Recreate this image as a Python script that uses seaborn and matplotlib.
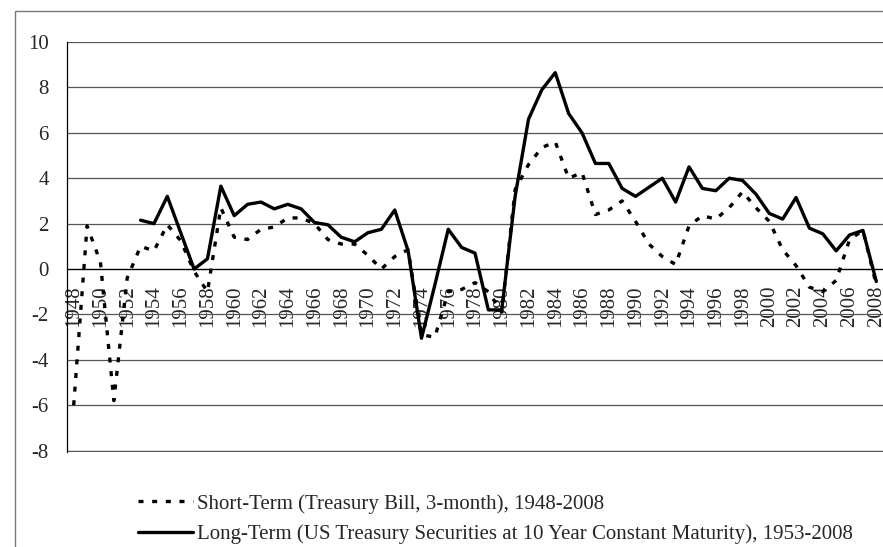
import numpy as np
import pandas as pd
import matplotlib
matplotlib.use("Agg")
import matplotlib.pyplot as plt
import matplotlib.patches as patches
import seaborn as sns

short_years = list(range(1948, 2009))
short_rate = [-6.0, 1.9, 0.3, -5.8, -0.4, 1.0, 0.8, 1.95, 1.25, -0.1,     # 1948-1957
              -1.0, 2.7, 1.4, 1.3, 1.75, 1.85, 2.25, 2.25, 2.0, 1.3,      # 1958-1967
              1.1, 1.1, 0.6, 0.0, 0.55, 0.85, -2.9, -3.0, -1.0, -0.9,     # 1968-1977
              -0.6, -1.0, -1.9, 3.5, 4.6, 5.35, 5.6, 4.0, 4.25, 2.4,      # 1978-1987
              2.6, 3.0, 2.1, 1.1, 0.55, 0.2, 1.9, 2.35, 2.2, 2.7,         # 1988-1997
              3.4, 2.7, 2.1, 0.85, 0.15, -0.8, -1.0, -0.5, 1.3, 1.7,      # 1998-2007
              -0.7]                                                       # 2008
long_years = list(range(1953, 2009))
long_rate = [2.15, 2.0, 3.2, 1.6, 0.0, 0.45, 3.65, 2.35, 2.85, 2.95,      # 1953-1962
             2.65, 2.85, 2.65, 2.05, 1.95, 1.4, 1.2, 1.6, 1.75, 2.6,      # 1963-1972
             0.8, -3.05, -0.7, 1.75, 0.95, 0.7, -1.8, -1.8, 3.2, 6.6,     # 1973-1982
             7.9, 8.65, 6.85, 6.0, 4.65, 4.65, 3.55, 3.2, 3.6, 4.0,       # 1983-1992
             2.95, 4.5, 3.55, 3.45, 4.0, 3.9, 3.3, 2.45, 2.2, 3.15,       # 1993-2002
             1.8, 1.55, 0.8, 1.5, 1.7, -0.55]                            # 2003-2008

short_label = "Short-Term (Treasury Bill, 3-month), 1948-2008"
long_label = "Long-Term (US Treasury Securities at 10 Year Constant Maturity), 1953-2008"
y_ticks = list(range(-8, 11, 2))
x_labels = list(range(1948, 2009, 2))

df_short = pd.DataFrame({"year": short_years, "rate": short_rate})
df_long = pd.DataFrame({"year": long_years, "rate": long_rate})

sns.set_style("white")
plt.rcParams['font.family'] = ['Liberation Serif', 'DejaVu Serif']

fig = plt.figure(figsize=(8.83, 5.47), dpi=100)
ax = fig.add_axes([67 / 883, 1 - 452 / 547, 1 - 67 / 883, (452 - 42) / 547])

sns.lineplot(data=df_short, x="year", y="rate", ax=ax, color="black", lw=2.4,
             label=short_label)
sns.lineplot(data=df_long, x="year", y="rate", ax=ax, color="black", lw=2.4,
             label=long_label)
ax.lines[0].set_dashes((1.5, 2.6))

ax.set_xlim(1947.5, 2008.5)
ax.set_ylim(-8.06, 10)
ax.set_yticks(y_ticks)
ax.yaxis.grid(True, color="#555555", lw=0.9)
ax.axhline(-8, color="#555555", lw=0.9, zorder=0.5)
ax.set_axisbelow(True)
ax.set(xlabel=None, ylabel=None)

for s in ["top", "right"]:
    ax.spines[s].set_visible(False)
ax.spines["left"].set_color("black")
ax.spines["left"].set_linewidth(0.9)
ax.spines["bottom"].set_position(("data", 0))
ax.spines["bottom"].set_color("black")
ax.spines["bottom"].set_linewidth(0.9)

ax.set_xticks(x_labels)
ax.set_xticklabels([str(v) for v in x_labels], rotation=90, fontsize=15)
ax.set_xticks(np.arange(1949.5, 2008, 2), minor=True)
ax.tick_params(axis="x", which="major", length=0, pad=12)
ax.tick_params(axis="x", which="minor", length=4, width=0.9, direction="out", color="black")
ax.tick_params(axis="y", length=6, width=0.9, direction="out", color="black", pad=7, labelsize=15)
ax.set_yticklabels([str(v) for v in y_ticks])

ax.get_legend().remove()
h, l = ax.get_legend_handles_labels()
fig.legend(h, l, loc="upper left", bbox_to_anchor=(138 / 883, 1 - 494 / 547),
           frameon=False, fontsize=15, handlelength=2.65, handletextpad=0.2,
           labelspacing=0.52, borderpad=0, borderaxespad=0)

# chart area border
fig.patches.append(patches.Rectangle((15 / 883, -0.1), 1.2, 0.1 + 1 - 11 / 547,
                                     transform=fig.transFigure, fill=False,
                                     edgecolor="#777777", lw=1))

fig.savefig("out.png", dpi=100)
